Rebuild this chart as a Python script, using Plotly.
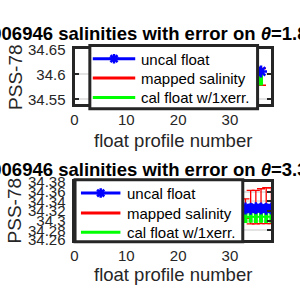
import plotly.graph_objects as go

# ---------------- data ----------------
# top panel (theta = 1.8)
top_prof = [33, 34, 35, 36]
top_uncal = [34.606, 34.606, 34.606, 34.606]
top_mapped = [34.595, 34.595, 34.595, 34.595]
top_mapped_err = [0.0168, 0.0168, 0.0168, 0.0168]
top_cal = [34.591, 34.591, 34.591, 34.591]
top_cal_err = [0.0133, 0.0133, 0.0133, 0.0133]
top_yticks = [34.55, 34.6, 34.65]
top_yticktext = ["34.55", "34.6", "34.65"]

# bottom panel (theta = 3.3)
bot_prof = [31, 32, 33, 34, 35, 36, 37, 38]
bot_uncal = [34.325, 34.325, 34.3255, 34.325, 34.326, 34.3255, 34.325, 34.3255]
bot_mapped = [34.325, 34.325, 34.325, 34.328, 34.328, 34.330, 34.331, 34.331]
bot_mapped_err = [0.020, 0.020, 0.020, 0.0345, 0.0345, 0.036, 0.037, 0.037]
bot_cal = [34.308, 34.308, 34.308, 34.3085, 34.308, 34.3085, 34.308, 34.3085]
bot_cal_err = [0.0128, 0.0128, 0.0128, 0.0128, 0.0128, 0.0128, 0.0128, 0.0128]
bot_yticks = [34.26, 34.28, 34.3, 34.32, 34.34, 34.36, 34.38]
bot_yticktext = ["34.26", "34.28", "34.3", "34.32", "34.34", "34.36", "34.38"]

xticks = [0, 10, 20, 30]
titles = ["1006946 salinities with error on <i>θ</i>=1.8°C",
          "1006946 salinities with error on <i>θ</i>=3.3°C"]
names = ["uncal float", "mapped salinity", "cal float w/1xerr."]
colors = ["blue", "red", "#00ff00"]

FONT = "Liberation Sans, Arial, Helvetica, sans-serif"
AX = "#262626"
W, H = 300, 300


def px_x(p):
    return p / W


def px_y(p):
    return 1 - p / H


fig = go.Figure()


def add_panel(prof, uncal, mapped, merr, cal, cerr, xa, ya, capw):
    fig.add_trace(go.Scatter(x=prof, y=mapped, mode="lines", name=names[1],
                             line=dict(color=colors[1], width=2),
                             error_y=dict(type="data", array=merr, visible=True,
                                          color=colors[1], thickness=1.3, width=capw),
                             xaxis=xa, yaxis=ya, showlegend=False))
    fig.add_trace(go.Scatter(x=prof, y=cal, mode="lines", name=names[2],
                             line=dict(color=colors[2], width=2),
                             error_y=dict(type="data", array=cerr, visible=True,
                                          color=colors[2], thickness=4, width=0),
                             xaxis=xa, yaxis=ya, showlegend=False))
    fig.add_trace(go.Scatter(x=prof, y=uncal, mode="lines+markers", name=names[0],
                             line=dict(color=colors[0], width=2.5),
                             marker=dict(symbol="asterisk-open", size=10, color=colors[0],
                                         line=dict(color=colors[0], width=2.5)),
                             xaxis=xa, yaxis=ya, showlegend=False))


add_panel(top_prof, top_uncal, top_mapped, top_mapped_err, top_cal, top_cal_err,
          "x", "y", 5)
add_panel(bot_prof, bot_uncal, bot_mapped, bot_mapped_err, bot_cal, bot_cal_err,
          "x2", "y2", 4)

xaxis_common = dict(range=[0, 38], tickvals=xticks, ticks="inside", ticklen=4, tickwidth=2,
                    tickcolor=AX, showline=True, linewidth=3, linecolor=AX, mirror="allticks",
                    showgrid=True, gridcolor="#e3e3e3", gridwidth=2, zeroline=False,
                    tickfont=dict(family=FONT, size=15, color=AX))
yaxis_common = dict(ticks="inside", ticklen=4, tickwidth=2, tickcolor=AX, showline=True,
                    linewidth=3, linecolor=AX, mirror="allticks", showgrid=True,
                    gridcolor="#e3e3e3", gridwidth=2, zeroline=False, ticklabelstandoff=3,
                    tickfont=dict(family=FONT, size=15, color=AX))

fig.update_layout(
    width=W, height=H, margin=dict(l=0, r=0, t=0, b=0),
    paper_bgcolor="white", plot_bgcolor="white", showlegend=False,
    xaxis=dict(domain=[px_x(71.5), px_x(271)], anchor="y", **xaxis_common),
    yaxis=dict(domain=[px_y(101.5), px_y(43.5)], anchor="x", range=[34.5405, 34.6505],
               tickvals=top_yticks, ticktext=top_yticktext, **yaxis_common),
    xaxis2=dict(domain=[px_x(71.5), px_x(271)], anchor="y2", **xaxis_common),
    yaxis2=dict(domain=[px_y(245.5), px_y(183.5)], anchor="x2", range=[34.2595, 34.3805],
                tickvals=bot_yticks, ticktext=bot_yticktext, **yaxis_common),
)

shapes = []
annotations = []

# legend boxes (drawn manually to match the MATLAB legend geometry)
legend_specs = [
    dict(box=(87, 257, 39.5, 106.5), rows=(53.5, 74, 94.5), line=(90, 133), tx=137),
    dict(box=(72, 242, 181.5, 247), rows=(195.5, 216.5, 237), line=(78, 118), tx=123),
]
for spec in legend_specs:
    x0, x1, y0, y1 = spec["box"]
    shapes.append(dict(type="rect", xref="paper", yref="paper", layer="above",
                       x0=px_x(x0), x1=px_x(x1), y0=px_y(y1), y1=px_y(y0),
                       fillcolor="white", line=dict(color=AX, width=3)))
    lx0, lx1 = spec["line"]
    for name, col, ry in zip(names, colors, spec["rows"]):
        shapes.append(dict(type="line", xref="paper", yref="paper", layer="above",
                           x0=px_x(lx0), x1=px_x(lx1), y0=px_y(ry), y1=px_y(ry),
                           line=dict(color=col, width=3)))
        annotations.append(dict(text=name, x=px_x(spec["tx"]), y=px_y(ry + 0.5),
                                xref="paper", yref="paper", xanchor="left", yanchor="middle",
                                showarrow=False,
                                font=dict(family=FONT, size=15, color="black")))
    cx = (lx0 + lx1) / 2
    cy = spec["rows"][0]
    r, d = 5, 3.6
    segs = [(-r, 0, r, 0), (0, -r, 0, r), (-d, -d, d, d), (-d, d, d, -d)]
    path = " ".join(
        f"M{px_x(cx + a):.5f},{px_y(cy + b):.5f} L{px_x(cx + c):.5f},{px_y(cy + e):.5f}"
        for a, b, c, e in segs)
    shapes.append(dict(type="path", xref="paper", yref="paper", layer="above", path=path,
                       line=dict(color=colors[0], width=2.5)))

for title, ytitle_px, xlab_px, ylab_px in [(titles[0], 27, 140, 73), (titles[1], 171, 282, 214)]:
    annotations.append(dict(text="<b>" + title + "</b>", x=px_x(-25), y=px_y(ytitle_px),
                            xref="paper", yref="paper", xanchor="left", yanchor="middle",
                            showarrow=False, font=dict(family=FONT, size=18.5, color="black")))
    annotations.append(dict(text="float profile number", x=px_x(171), y=px_y(xlab_px),
                            xref="paper", yref="paper", xanchor="center", yanchor="middle",
                            showarrow=False, font=dict(family=FONT, size=18.5, color=AX)))
    annotations.append(dict(text="PSS-78", x=px_x(11), y=px_y(ylab_px), textangle=-90,
                            xref="paper", yref="paper", xanchor="center", yanchor="middle",
                            showarrow=False, font=dict(family=FONT, size=19, color=AX)))

fig.update_layout(shapes=shapes, annotations=annotations)

fig.write_html("out.html")
